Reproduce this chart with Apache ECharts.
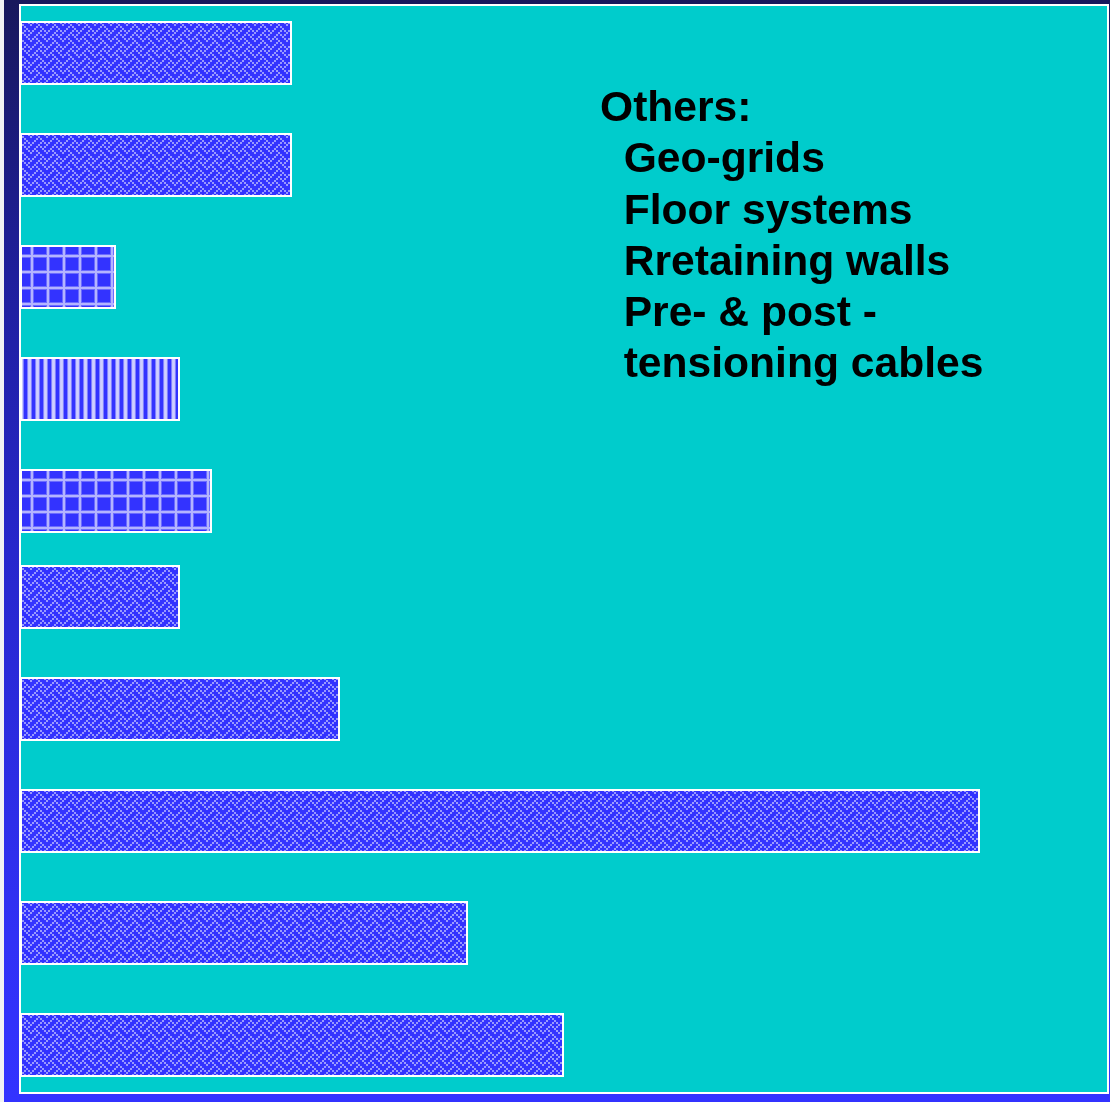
<!DOCTYPE html>
<html>
<head>
<meta charset="utf-8">
<script src="https://cdn.jsdelivr.net/npm/echarts@6/dist/echarts.min.js"></script>
<style>
  html, body { margin: 0; padding: 0; background: #fff; }
  #chart { width: 1110px; height: 1102px; }
</style>
</head>
<body>
<div id="chart"></div>
<script>
// ---- data ----
const rowSlots = [3, 10, 17, 24, 31, 37, 44, 51, 58, 65];   // row position of each bar (in slot units, 0..68)
const barValues = [17, 17, 6, 10, 12, 10, 20, 60, 28, 34];
const barFills = ['weave', 'weave', 'grid', 'stripes', 'grid', 'weave', 'weave', 'weave', 'weave', 'weave'];
const slotCount = 69;
const valueMax = 68;
const noteLines = ['Others:', '  Geo-grids', '  Floor systems', '  Rretaining walls', '  Pre- & post -', '  tensioning cables'];

// ---- pattern tiles ----
function makeTile(w, h, draw) {
  const c = document.createElement('canvas');
  c.width = w; c.height = h;
  const ctx = c.getContext('2d');
  draw(ctx);
  return c;
}
const BLUE = '#3333ff';
const weaveBits = [0x11, 0x2a, 0x44, 0xa2, 0x11, 0x28, 0x44, 0x8a];
const tiles = {
  weave: makeTile(16, 16, ctx => {
    ctx.fillStyle = BLUE; ctx.fillRect(0, 0, 16, 16);
    for (let r = 0; r < 8; r++) {
      for (let b = 0; b < 8; b++) {
        if (weaveBits[r] & (0x80 >> b)) {
          ctx.fillStyle = '#9999ff';
          ctx.fillRect(b * 2, r * 2, 2, 2);
        }
      }
    }
  }),
  grid: makeTile(16, 16, ctx => {
    ctx.fillStyle = BLUE; ctx.fillRect(0, 0, 16, 16);
    ctx.fillStyle = '#6c6cff';
    ctx.fillRect(14, 0, 4, 16); ctx.fillRect(0, 0, 2, 16);
    ctx.fillRect(0, 14, 16, 4); ctx.fillRect(0, 0, 16, 2);
    ctx.fillStyle = '#b4b4ff';
    ctx.fillRect(15, 0, 1, 16); ctx.fillRect(0, 0, 1, 16);
    ctx.fillRect(0, 15, 16, 1); ctx.fillRect(0, 0, 16, 1);
  }),
  stripes: makeTile(8, 8, ctx => {
    const cols = [BLUE, BLUE, BLUE, '#8080ff', '#c8c8ff', '#d0d0ff', '#c8c8ff', '#8080ff'];
    cols.forEach((c, i) => { ctx.fillStyle = c; ctx.fillRect(i, 0, 1, 8); });
  })
};

const slotNames = [];
for (let i = 0; i < slotCount; i++) slotNames.push(String(i));

const chart = echarts.init(document.getElementById('chart'), null, { renderer: 'canvas' });
const option = {
  animation: false,
  backgroundColor: {
    type: 'linear', x: 0, y: 0, x2: 0, y2: 1,
    colorStops: [
      { offset: 0, color: '#18185c' },
      { offset: 0.25, color: '#1f1f9c' },
      { offset: 0.5, color: '#2727cc' },
      { offset: 0.85, color: '#3131f5' },
      { offset: 1, color: '#3333ff' }
    ]
  },
  grid: {
    left: 20, top: 5, width: 1088, height: 1088,
    show: true, backgroundColor: '#00cccc', borderColor: '#ffffff', borderWidth: 2
  },
  xAxis: { type: 'value', min: 0, max: valueMax, show: false },
  yAxis: { type: 'category', data: slotNames, inverse: true, boundaryGap: false, show: false },
  graphic: [
    { type: 'rect', shape: { x: 0, y: 0, width: 4, height: 1102 }, style: { fill: '#f2f2f4' }, silent: true, z: 100 }
  ].concat(noteLines.map((t, i) => ({
    type: 'text',
    x: 600,
    y: 109.5 + i * 51.2,
    z: 100,
    silent: true,
    style: {
      text: t,
      font: 'bold 42.6px "Liberation Sans", Arial, sans-serif',
      fill: '#000000',
      verticalAlign: 'middle',
      align: 'left'
    }
  }))),
  series: [{
    type: 'bar',
    barWidth: 64,
    encode: { x: 0, y: 1 },
    data: rowSlots.map((s, i) => ({
      value: [barValues[i], String(s)],
      itemStyle: {
        color: { image: tiles[barFills[i]], repeat: 'repeat' },
        borderColor: '#ffffff',
        borderWidth: 2
      }
    })),
    silent: true
  }]
};
chart.setOption(option);
</script>
</body>
</html>
